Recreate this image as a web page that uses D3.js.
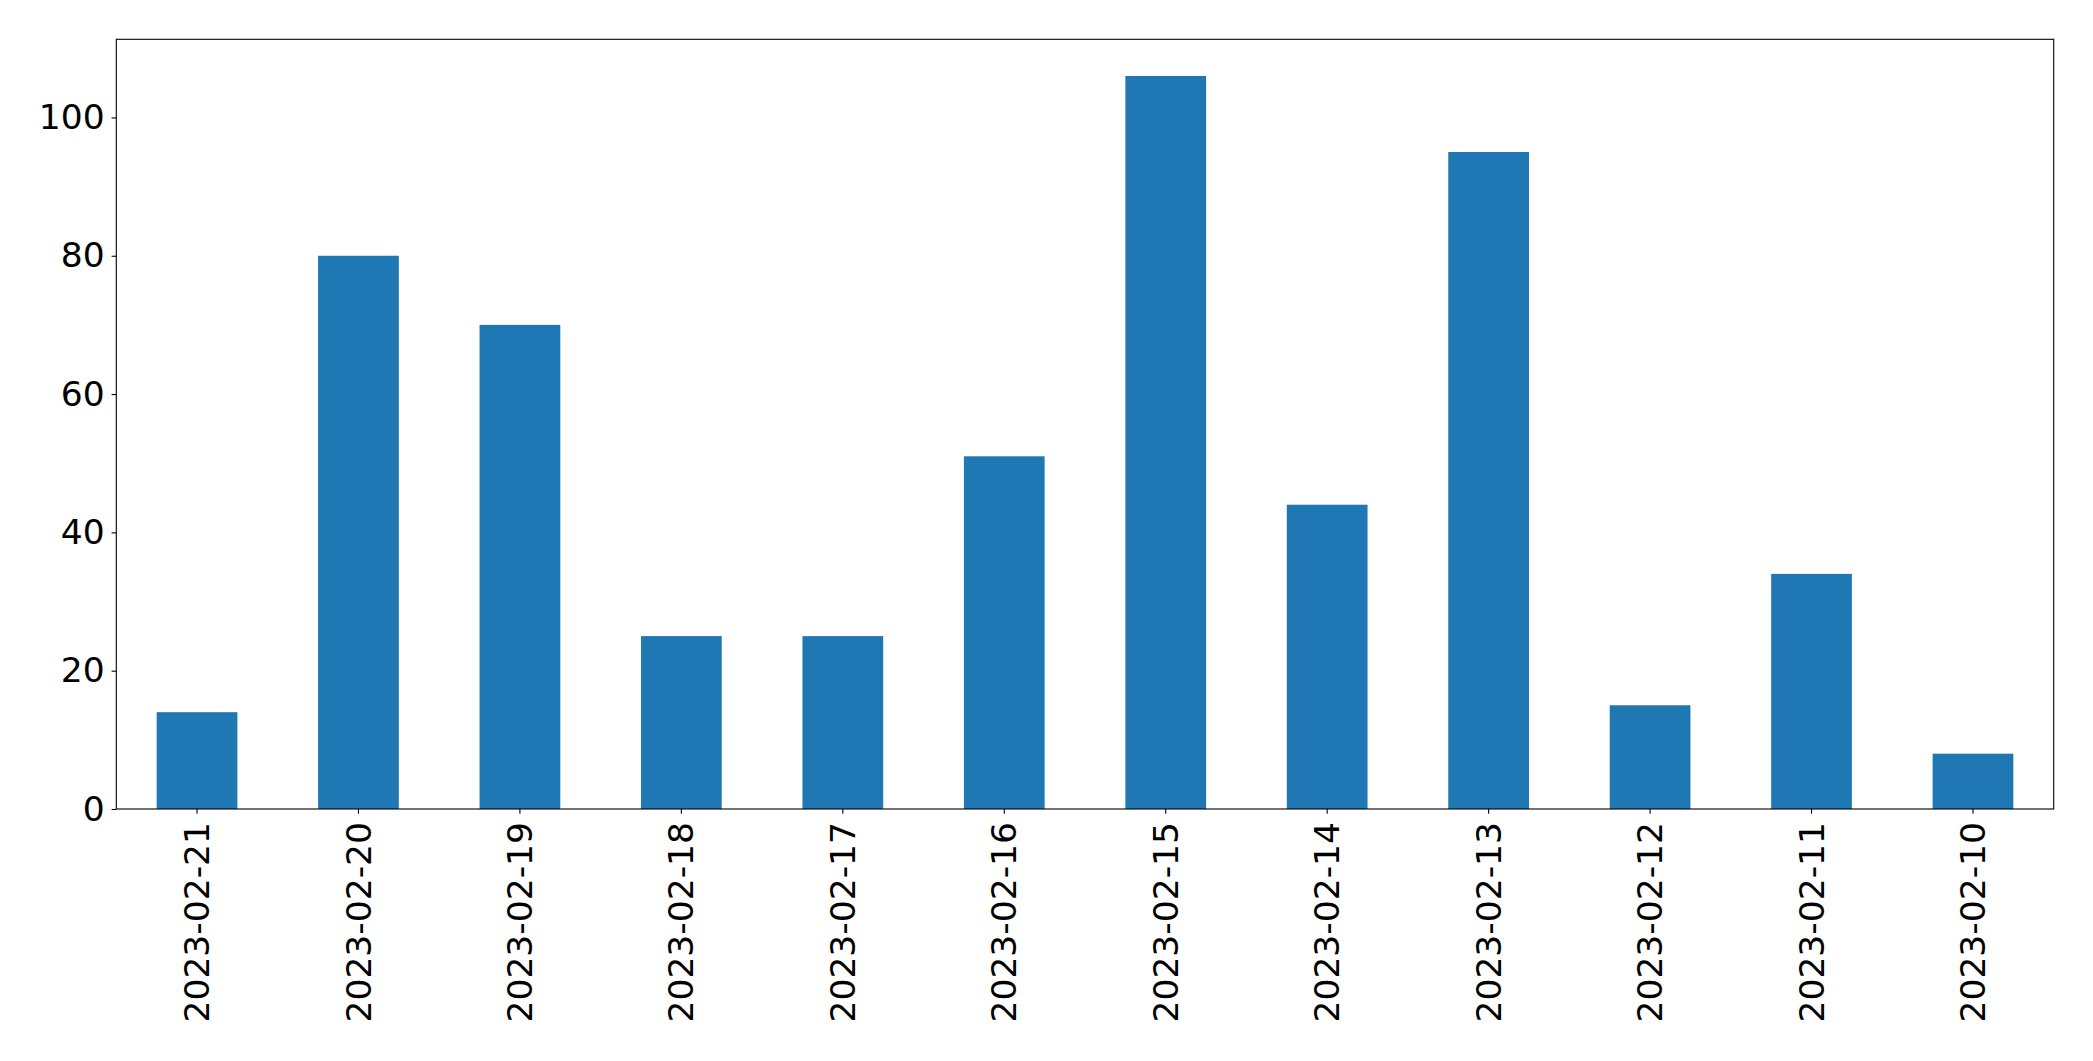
<!DOCTYPE html>
<html><head><meta charset="utf-8">
<script src="https://cdn.jsdelivr.net/npm/d3@7"></script>
<style>body{margin:0;background:#fff;} svg{display:block;}</style>
</head><body>
<script>
const categories = ["2023-02-21","2023-02-20","2023-02-19","2023-02-18","2023-02-17","2023-02-16","2023-02-15","2023-02-14","2023-02-13","2023-02-12","2023-02-11","2023-02-10"];
const values = [14, 80, 70, 25, 25, 51, 106, 44, 95, 15, 34, 8];
const yTicks = [0, 20, 40, 60, 80, 100];

const W = 2093, H = 1061;
const m = {left: 116.3, right: 2053.7, top: 39.3, bottom: 809};
const svg = d3.select("body").append("svg").attr("width", W).attr("height", H);

const x = d3.scaleBand().domain(categories).range([m.left, m.right]).paddingInner(0.5).paddingOuter(0.25);
const y = d3.scaleLinear().domain([0, d3.max(values) * 1.05]).range([m.bottom, m.top]);

svg.append("g").selectAll("rect").data(values).join("rect")
  .attr("x", (d, i) => x(categories[i]))
  .attr("width", x.bandwidth())
  .attr("y", d => y(d))
  .attr("height", d => y(0) - y(d))
  .attr("fill", "#1f77b4");

const font = "DejaVu Sans, sans-serif";
const fs = 34.5;

const yAxis = svg.append("g").attr("transform", `translate(${m.left},0)`)
  .call(d3.axisLeft(y).tickValues(yTicks).tickSize(4.7).tickPadding(7).tickFormat(d3.format("d")));
yAxis.select(".domain").remove();
yAxis.selectAll("line").attr("stroke", "#000").attr("stroke-width", 1.1);
yAxis.selectAll("text").attr("font-family", font).attr("font-size", fs).attr("fill", "#000");

const xAxis = svg.append("g").attr("transform", `translate(0,${m.bottom})`)
  .call(d3.axisBottom(x).tickSize(4.7).tickPadding(0));
xAxis.select(".domain").remove();
xAxis.selectAll("line").attr("stroke", "#000").attr("stroke-width", 1.1);
xAxis.selectAll("text")
  .attr("font-family", font).attr("font-size", fs).attr("fill", "#000")
  .attr("transform", "rotate(-90)")
  .attr("text-anchor", "end")
  .attr("x", -13)
  .attr("y", 0)
  .attr("dy", "0.35em");

svg.append("rect").attr("x", m.left).attr("y", m.top)
  .attr("width", m.right - m.left).attr("height", m.bottom - m.top)
  .attr("fill", "none").attr("stroke", "#000").attr("stroke-width", 1.1);
</script>
</body></html>
